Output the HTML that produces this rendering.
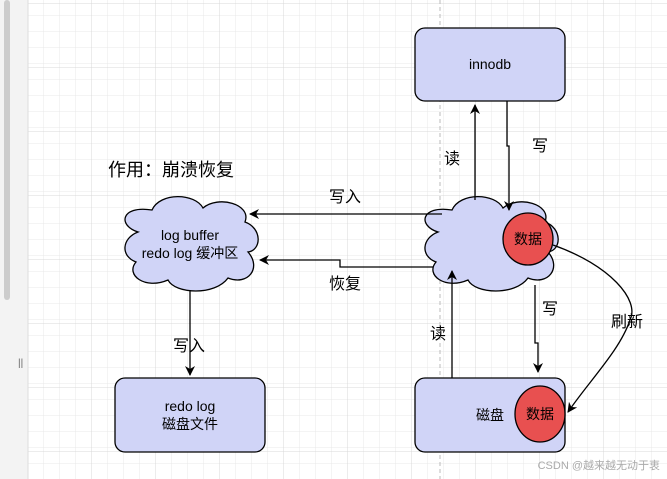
<!DOCTYPE html>
<html><head><meta charset="utf-8"><style>
html,body{margin:0;padding:0;width:667px;height:479px;overflow:hidden;background:#fff}
svg text{font-family:"Liberation Sans","Noto Sans CJK SC",sans-serif}
</style></head><body>
<svg width="667" height="479" xmlns="http://www.w3.org/2000/svg">
<defs>
<pattern id="g" x="28" y="0" width="16" height="16" patternUnits="userSpaceOnUse">
<path d="M16 0V16M0 16H16" fill="none" stroke="#e8e8e8" stroke-width="1"/>
</pattern>
<pattern id="G" x="28" y="4" width="64" height="64" patternUnits="userSpaceOnUse">
<path d="M64 0V64M0 64H64" fill="none" stroke="#d8d8d8" stroke-width="1"/>
</pattern>
<marker id="a" markerWidth="10" markerHeight="10" refX="9" refY="5" orient="auto" markerUnits="userSpaceOnUse">
<path d="M0,0 L10,5 L0,10 L3,5 Z" fill="#000"/>
</marker>
</defs>
<rect x="28" y="0" width="639" height="479" fill="url(#g)"/>
<rect x="28" y="0" width="639" height="479" fill="url(#G)"/>
<rect x="0" y="0" width="28" height="479" fill="#f3f3f3"/>
<line x1="28" y1="0" x2="28" y2="479" stroke="#ddd"/>
<rect x="4" y="0" width="6" height="300" rx="3" fill="#ccc"/>
<text x="18" y="366" font-size="10" fill="#666">||</text>
<line x1="440" y1="0" x2="440" y2="479" stroke="#bbb" stroke-dasharray="4,3"/>

<rect x="415" y="28" width="150" height="73" rx="10" fill="#d0d4f7" stroke="#000" stroke-width="1.3"/>
<text x="490" y="69" font-size="14" text-anchor="middle">innodb</text>
<rect x="115" y="378" width="150" height="74" rx="10" fill="#d0d4f7" stroke="#000" stroke-width="1.3"/>
<text x="190" y="411" font-size="14" text-anchor="middle">redo log</text>
<text x="190" y="429" font-size="14" text-anchor="middle">磁盘文件</text>
<rect x="415" y="378" width="150" height="74" rx="10" fill="#d0d4f7" stroke="#000" stroke-width="1.3"/>
<text x="490" y="420" font-size="14" text-anchor="middle">磁盘</text>
<ellipse cx="540" cy="414" rx="25" ry="28" fill="#e85050" stroke="#000" stroke-width="1.3"/>
<text x="540" y="419" font-size="14" text-anchor="middle">数据</text>

<g fill="#d0d4f7" stroke="#000" stroke-width="1.3">
<path d="M138,232 C118,226 120,205 152,210 C160,192 195,193 203,208 C218,195 252,204 245,222 C262,228 262,250 248,252 C262,268 248,286 228,278 C215,296 175,294 168,280 C145,290 125,275 136,262 C120,256 122,238 138,232 Z"/>
<path d="M438,232 C418,226 420,205 452,210 C460,192 495,193 503,208 C518,195 552,204 545,222 C562,228 562,250 548,252 C562,268 548,286 528,278 C515,296 475,294 468,280 C445,290 425,275 436,262 C420,256 422,238 438,232 Z"/>
</g>
<text x="190" y="240" font-size="14" text-anchor="middle">log buffer</text>
<text x="190" y="258" font-size="14" text-anchor="middle">redo log 缓冲区</text>
<ellipse cx="528" cy="239" rx="25" ry="26" fill="#e85050" stroke="#000" stroke-width="1.3"/>
<text x="528" y="244" font-size="14" text-anchor="middle">数据</text>

<g fill="none" stroke="#000" stroke-width="1.3">
<path d="M475,200 V105" marker-end="url(#a)"/>
<path d="M507,101 V146 H509 V210" marker-end="url(#a)"/>
<path d="M442,214 H250" marker-end="url(#a)"/>
<path d="M433,267 H340 V260 H260" marker-end="url(#a)"/>
<path d="M452,378 V271" marker-end="url(#a)"/>
<path d="M535,285 V343 H538 V372" marker-end="url(#a)"/>
<path d="M190,290 V375" marker-end="url(#a)"/>
<path d="M553,245 C610,265 640,300 630,320 C620,350 590,380 568,412" marker-end="url(#a)"/>
</g>
<g font-size="16" text-anchor="middle">
<text x="452" y="164">读</text>
<text x="540" y="151">写</text>
<text x="345" y="202">写入</text>
<text x="345" y="289">恢复</text>
<text x="438" y="339">读</text>
<text x="550" y="314">写</text>
<text x="627" y="327">刷新</text>
<text x="189" y="351">写入</text>
</g>
<text x="108" y="176" font-size="18">作用：崩溃恢复</text>
<text x="660" y="469" font-size="11" fill="#aaa" text-anchor="end">CSDN @越来越无动于衷</text>
</svg>
</body></html>
